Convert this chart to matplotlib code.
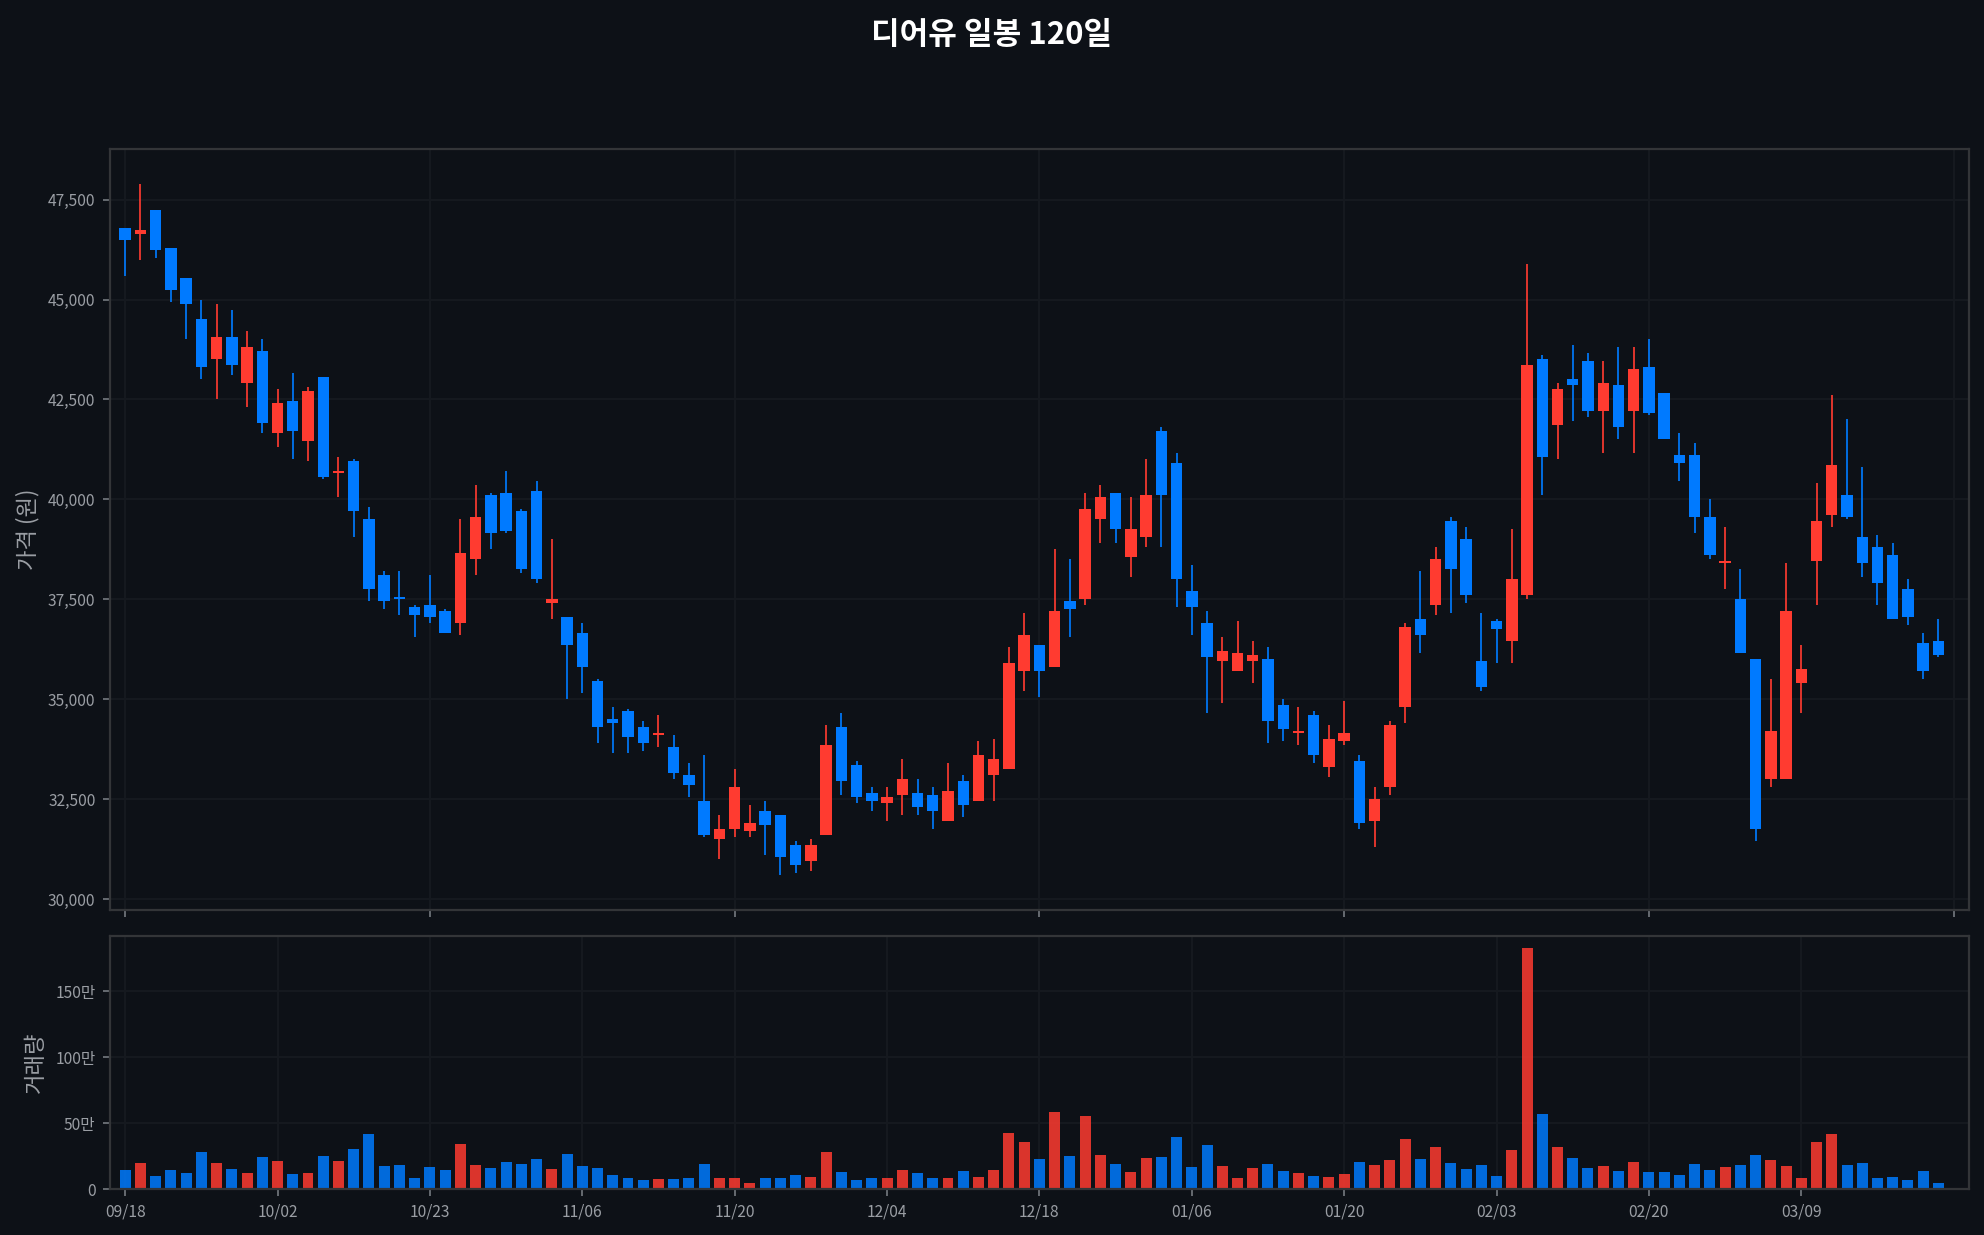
import matplotlib
matplotlib.use("Agg")
import matplotlib.pyplot as plt
from matplotlib.ticker import FuncFormatter, FixedLocator, MultipleLocator
import numpy as np

plt.rcParams['font.family'] = ['Noto Sans CJK KR', 'DejaVu Sans']

title = "디어유 일봉 120일"
opens = [46800, 46650, 47250, 46300, 45550, 44500, 43500, 44050, 42900, 43700,
         41650, 42450, 41450, 43050, 40650, 40950, 39500, 38100, 37550, 37300,
         37350, 37200, 36900, 38500, 40100, 40150, 39700, 40200, 37400, 37050,
         36650, 35450, 34500, 34700, 34300, 34100, 33800, 33100, 32450, 31500,
         31750, 31700, 32200, 32100, 31350, 30950, 31600, 34300, 33350, 32650,
         32400, 32600, 32650, 32600, 31950, 32950, 32450, 33100, 33250, 35700,
         36350, 35800, 37450, 37500, 39500, 40150, 38550, 39050, 41700, 40900,
         37700, 36900, 35950, 35700, 35950, 36000, 34850, 34150, 34600, 33300,
         33950, 33450, 31950, 32800, 34800, 37000, 37350, 39450, 39000, 35950,
         36950, 36450, 37600, 43500, 41850, 43000, 43450, 42200, 42850, 42200,
         43300, 42650, 41100, 41100, 39550, 38400, 37500, 36000, 33000, 33000,
         35400, 38450, 39600, 40100, 39050, 38800, 38600, 37750, 36400, 36450]
highs = [46800, 47900, 47250, 46300, 45550, 45000, 44900, 44750, 44200, 44000,
         42750, 43150, 42800, 43050, 41050, 41000, 39800, 38200, 38200, 37350,
         38100, 37250, 39500, 40350, 40150, 40700, 39750, 40450, 39000, 37050,
         36900, 35500, 34800, 34750, 34450, 34600, 34100, 33400, 33600, 32100,
         33250, 32350, 32450, 32100, 31450, 31500, 34350, 34650, 33450, 32800,
         32800, 33500, 33000, 32800, 33400, 33100, 33950, 34000, 36300, 37150,
         36350, 38750, 38500, 40150, 40350, 40150, 40050, 41000, 41800, 41150,
         38350, 37200, 36550, 36950, 36450, 36300, 35000, 34800, 34700, 34350,
         34950, 33600, 32800, 34450, 36900, 38200, 38800, 39550, 39300, 37150,
         37000, 39250, 45900, 43600, 42900, 43850, 43650, 43450, 43800, 43800,
         44000, 42650, 41650, 41400, 40000, 39300, 38250, 36000, 35500, 38400,
         36350, 40400, 42600, 42000, 40800, 39100, 38900, 38000, 36650, 37000]
lows = [45600, 46000, 46050, 44950, 44000, 43000, 42500, 43100, 42300, 41650,
        41300, 41000, 40950, 40500, 40050, 39050, 37450, 37250, 37100, 36550,
        36900, 36650, 36600, 38100, 38750, 39150, 38150, 37900, 37000, 35000,
        35150, 33900, 33650, 33650, 33700, 33800, 33000, 32550, 31550, 31000,
        31550, 31550, 31100, 30600, 30650, 30700, 31600, 32600, 32400, 32200,
        31950, 32100, 32100, 31750, 31950, 32050, 32450, 32450, 33250, 35200,
        35050, 35800, 36550, 37350, 38900, 38900, 38050, 38800, 38800, 37300,
        36600, 34650, 34900, 35700, 35400, 33900, 33950, 33850, 33400, 33050,
        33850, 31750, 31300, 32600, 34400, 36150, 37100, 37150, 37400, 35200,
        35900, 35900, 37500, 40100, 41000, 41950, 42050, 41150, 41500, 41150,
        42100, 41500, 40450, 39150, 38500, 37750, 36150, 31450, 32800, 33000,
        34650, 37350, 39300, 39500, 38050, 37350, 37000, 36850, 35500, 36050]
closes = [46500, 46750, 46250, 45250, 44900, 43300, 44050, 43350, 43800, 41900,
          42400, 41700, 42700, 40550, 40700, 39700, 37750, 37450, 37500, 37100,
          37050, 36650, 38650, 39550, 39150, 39200, 38250, 38000, 37500, 36350,
          35800, 34300, 34400, 34050, 33900, 34150, 33150, 32850, 31600, 31750,
          32800, 31900, 31850, 31050, 30850, 31350, 33850, 32950, 32550, 32450,
          32550, 33000, 32300, 32200, 32700, 32350, 33600, 33500, 35900, 36600,
          35700, 37200, 37250, 39750, 40050, 39250, 39250, 40100, 40100, 38000,
          37300, 36050, 36200, 36150, 36100, 34450, 34250, 34200, 33600, 34000,
          34150, 31900, 32500, 34350, 36800, 36600, 38500, 38250, 37600, 35300,
          36750, 38000, 43350, 41050, 42750, 42850, 42200, 42900, 41800, 43250,
          42150, 41500, 40900, 39550, 38600, 38450, 36150, 31750, 34200, 37200,
          35750, 39450, 40850, 39550, 38400, 37900, 37000, 37050, 35700, 36100]
volumes = [142000, 195000, 96000, 142000, 119000, 278000, 195000, 149000, 119000, 240000,
           210000, 111000, 119000, 248000, 210000, 301000, 415000, 172000, 180000, 81000,
           164000, 142000, 339000, 180000, 157000, 202000, 187000, 225000, 149000, 263000,
           172000, 157000, 104000, 81000, 66000, 73000, 73000, 81000, 187000, 81000,
           81000, 43000, 81000, 81000, 104000, 88000, 278000, 126000, 66000, 81000,
           81000, 142000, 119000, 81000, 81000, 134000, 88000, 142000, 422000, 354000,
           225000, 582000, 248000, 551000, 255000, 187000, 126000, 233000, 240000, 392000,
           164000, 331000, 172000, 81000, 157000, 187000, 134000, 119000, 96000, 88000,
           111000, 202000, 180000, 217000, 377000, 225000, 316000, 195000, 149000, 180000,
           96000, 293000, 1826000, 566000, 316000, 233000, 157000, 172000, 134000, 202000,
           126000, 126000, 104000, 187000, 142000, 164000, 180000, 255000, 217000, 172000,
           81000, 354000, 415000, 180000, 195000, 81000, 88000, 66000, 134000, 43000]
date_ticks = [0, 10, 20, 30, 40, 50, 60, 70, 80, 90, 100, 110]
date_labels = ["09/18", "10/02", "10/23", "11/06", "11/20", "12/04",
               "12/18", "01/06", "01/20", "02/03", "02/20", "03/09"]

BG = "#0d1117"
UP = "#ff3b30"
DOWN = "#007aff"
SPINE = "#333538"
GRID = "#161a20"
TXT = "#9a9ea4"
TICK = "#6e7379"

o = np.array(opens, float); h = np.array(highs, float)
l = np.array(lows, float); c = np.array(closes, float)
v = np.array(volumes, float)
x = np.arange(len(o))
up = c >= o
cols = np.where(up, UP, DOWN)

fig = plt.figure(figsize=(12.4, 7.71875), dpi=160, facecolor=BG)
ax = fig.add_axes([0.0554, 0.2632, 0.9370, 0.6162])
axv = fig.add_axes([0.0554, 0.0372, 0.9370, 0.2049])

for a in (ax, axv):
    a.set_facecolor(BG)
    for s in a.spines.values():
        s.set_color(SPINE)
        s.set_linewidth(1.0)
    a.tick_params(colors=TICK, labelcolor=TXT, labelsize=7, length=3, width=0.8)
    a.grid(True, color=GRID, linewidth=0.8)
    a.set_axisbelow(True)

# price panel
ax.vlines(x, l, h, colors=cols, linewidth=0.9, alpha=0.85, zorder=2)
ax.bar(x, np.abs(c - o), bottom=np.minimum(o, c), width=0.75, color=cols,
       linewidth=0, zorder=3)
ax.set_xlim(-1, 121)
ax.margins(y=0.05)
ax.yaxis.set_major_locator(MultipleLocator(2500))
ax.yaxis.set_major_formatter(FuncFormatter(lambda val, p: f"{int(val):,}"))
ax.tick_params(axis='x', labelbottom=False)
ax.set_ylabel("가격 (원)", color=TXT, fontsize=10)

# volume panel
axv.bar(x, v, width=0.72, color=cols, alpha=0.85, linewidth=0)
axv.set_xlim(-1, 121)
axv.set_ylim(0, v.max() * 1.05)
axv.xaxis.set_major_locator(FixedLocator(date_ticks))
axv.set_xticklabels(date_labels)
axv.yaxis.set_major_locator(MultipleLocator(500000))
axv.yaxis.set_major_formatter(FuncFormatter(
    lambda val, p: "0" if val == 0 else f"{int(round(val / 10000))}만"))
axv.set_ylabel("거래량", color=TXT, fontsize=10)

fig.suptitle(title, color="white", fontsize=14, fontweight="bold", y=0.985)

fig.savefig("out.png", dpi=160, facecolor=BG)
